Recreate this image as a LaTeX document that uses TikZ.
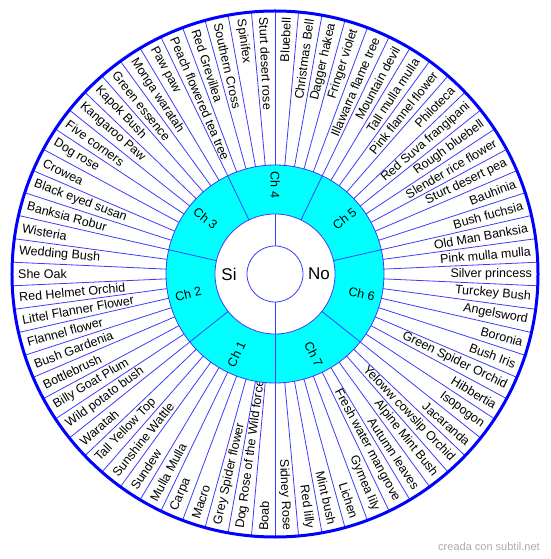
\documentclass[tikz,border=0pt]{standalone}
\usepackage{fontspec}
\setmainfont{Liberation Sans}
\usetikzlibrary{calc}
\definecolor{wheelblue}{RGB}{0,0,255}
\definecolor{spokeblue}{RGB}{60,60,255}
\definecolor{ringcyan}{RGB}{0,255,255}
\definecolor{markgray}{RGB}{170,170,170}
\tikzset{%
	spoke/.style   = {draw=spokeblue, line width=0.8pt},
	rim/.style     = {draw=wheelblue, line width=3pt},
	chlabel/.style = {font=\fontsize{12.5}{14}\selectfont, inner sep=0pt},
	flower/.style  = {font=\fontsize{12.5}{14}\selectfont, inner sep=0pt},
	answer/.style  = {font=\fontsize{17}{19}\selectfont, inner sep=0pt},
}

\begin{document}
\begin{tikzpicture}[x=1pt,y=1pt]
		\useasboundingbox (-275,-285) rectangle (275,274);
		
		% outer ring labels, clockwise from the bottom
		\foreach \name [count=\i from 0] in {Boab,Dog Rose of the Wild forces,Grey Spider flower,Macro,Carpa,Mulla Mulla,Sundew,Sunshine Wattle,Tall Yellow Top,Waratah,
			Wild potato bush,Billy Goat Plum,Bottlebrush,Bush Gardenia,Flannel flower,Littel Flanner Flower,Red Helmet Orchid,She Oak,Wedding Bush,Wisteria,
			Banksia Robur,Black eyed susan,Crowea,Dog rose,Five corners,Kangaroo Paw,Kapok Bush,Green essence,Monga waratah,Paw paw,
			Peach flowered tea tree,Red Grevillea,Southern Cross,Spinifex,Sturt desert rose,Bluebell,Christmas Bell,Dagger hakea,Fringer violet,Illawarra flame tree,
			Mountain devil,Tall mulla mulla,Pink flannel flower,Philoteca,Red Suva frangipani,Rough bluebell,Slender rice flower,Sturt desert pea,Bauhinia,Bush fuchsia,
			Old Man Banksia,Pink mulla mulla,Silver princess,Turckey Bush,Angelsword,Boronia,Bush Iris,Green Spider Orchid,Hibbertia,Isopogon,
			Jacaranda,Yeloww cowslip Orchid,Alpine Mint Bush,Autumn leaves,Fresh water mangrove,Gymea lily,Lichen,Mint bush,Red lilly,Sidney Rose} {
			\pgfmathsetmacro\ang{-90-(\i+0.5)*(360/70)}
			\pgfmathtruncatemacro\rgt{cos(\ang)>0.01}
			\ifnum\rgt=1
				\node[flower,anchor=east,rotate=\ang] (fl\i) at (\ang:257) {\name};
			\else
				\node[flower,anchor=west,rotate=\ang+180] (fl\i) at (\ang:257) {\name};
			\fi
		}
		
		% chapter ring and answer ring
		\fill[ringcyan] (0,0) circle (109);
		\fill[white] (0,0) circle (60);
		\draw[spoke] (0,0) circle (109);
		\draw[spoke] (0,0) circle (60);
		\draw[spoke] (0,0) circle (28);
		\draw[spoke] (0,28) -- (0,60);
		\draw[spoke] (0,-28) -- (0,-60);
		
		\foreach \k [evaluate=\k as \sang using 90+\k*(360/70)] in {0,...,69} \draw[spoke] (\sang:109) -- (\sang:262);
		\foreach \k [evaluate=\k as \dang using -90+\k*(360/7)] in {0,...,6} \draw[spoke] (\dang:60) -- (\dang:109);
		
		\foreach \k in {1,...,7} {
			\pgfmathsetmacro\cang{-90-(\k-0.5)*(360/7)}
			\pgfmathtruncatemacro\crgt{cos(\cang)>0.01}
			\ifnum\crgt=1
				\node[chlabel,rotate=\cang] (ch\k) at (\cang:89) {Ch \k};
			\else
				\node[chlabel,rotate=\cang+180] (ch\k) at (\cang:89) {Ch \k};
			\fi
		}
		
		\node[answer] (si) at (-46,0) {Si};
		\node[answer] (no) at (44,0) {No};
		
		\draw[rim] (0,0) circle (263);
		
		\node[font=\fontsize{11}{13}\selectfont,text=markgray,inner sep=0pt] (mark) at (214,-273) {creada con subtil.net};
	\end{tikzpicture}
\end{document}
